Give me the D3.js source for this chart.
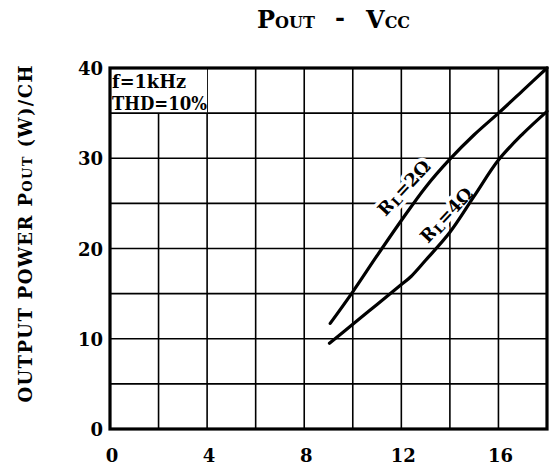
<!DOCTYPE html>
<html>
<head>
<meta charset="utf-8">
<script src="https://cdn.jsdelivr.net/npm/d3@7"></script>
<style>
  html, body { margin: 0; padding: 0; background: #fff; }
  svg { display: block; }
  text { font-family: "DejaVu Serif", serif; font-weight: bold; fill: #000; }
</style>
</head>
<body>
<svg id="chart" width="553" height="468"></svg>
<script>
// ---- data ----
const xTickValues = [0, 4, 8, 12, 16];
const yTickValues = [0, 10, 20, 30, 40];
const xGridValues = [0, 2, 4, 6, 8, 10, 12, 14, 16, 18];
const yGridValues = [0, 5, 10, 15, 20, 25, 30, 35, 40];

const vccRL2 = [9.07, 10, 11, 12, 13, 14, 15, 16, 17, 18];
const poutRL2 = [11.7, 15.2, 19.2, 23.1, 26.8, 29.9, 32.6, 35.0, 37.5, 40.0];

const vccRL4 = [9.04, 10, 11, 12, 12.4, 13, 14, 15, 16, 17, 18];
const poutRL4 = [9.5, 11.6, 13.8, 16.0, 16.9, 18.7, 21.8, 25.8, 29.8, 32.7, 35.2];

const seriesNames = ["2Ω", "4Ω"];
const condLines = ["f=1kHz", "THD=10%"];

// ---- layout ----
const svg = d3.select("#chart");
const x = d3.scaleLinear().domain([0, 18]).range([110, 547]);
const y = d3.scaleLinear().domain([0, 40]).range([429, 68]);

// grid
const g = svg.append("g");
g.selectAll("line.vg").data(xGridValues).join("line")
  .attr("x1", d => x(d)).attr("x2", d => x(d))
  .attr("y1", y(0)).attr("y2", y(40))
  .attr("stroke", "#000").attr("stroke-width", 1.6);
g.selectAll("line.hg").data(yGridValues).join("line")
  .attr("x1", x(0)).attr("x2", x(18))
  .attr("y1", d => y(d)).attr("y2", d => y(d))
  .attr("stroke", "#000").attr("stroke-width", 1.6);

// white box behind conditions
svg.append("rect")
  .attr("x", x(0)).attr("y", y(40))
  .attr("width", x(4) - x(0)).attr("height", y(35) - y(40))
  .attr("fill", "#fff");
g.append("line").attr("x1", x(4)).attr("x2", x(4)).attr("y1", y(40)).attr("y2", y(35))
  .attr("stroke", "#000").attr("stroke-width", 1.6);
svg.append("line").attr("x1", x(0)).attr("x2", x(4)).attr("y1", y(35)).attr("y2", y(35))
  .attr("stroke", "#000").attr("stroke-width", 1.6);

// curve labels (with white halo)
const labelPos = [[11.35, 23.5], [13.1, 20.5]];
seriesNames.forEach((nm, i) => {
  const t = svg.append("text")
    .attr("transform", `translate(${x(labelPos[i][0])},${y(labelPos[i][1])}) rotate(-47)`)
    .attr("font-size", 18)
    .attr("stroke", "#fff").attr("stroke-width", 7).attr("paint-order", "stroke")
    .attr("stroke-linejoin", "round");
  t.append("tspan").text("R");
  t.append("tspan").attr("font-size", 13).attr("dy", 2).text("L");
  t.append("tspan").attr("dy", -2).text("=" + nm);
});

// curves
const line = d3.line().x(d => x(d[0])).y(d => y(d[1])).curve(d3.curveCatmullRom.alpha(0.5));
[[vccRL2, poutRL2], [vccRL4, poutRL4]].forEach(([xs, ys]) => {
  svg.append("path")
    .attr("d", line(xs.map((v, i) => [v, ys[i]])))
    .attr("fill", "none").attr("stroke", "#000").attr("stroke-width", 3.2)
    .attr("stroke-linecap", "round");
});

// frame
svg.append("rect")
  .attr("x", x(0)).attr("y", y(40))
  .attr("width", x(18) - x(0)).attr("height", y(0) - y(40))
  .attr("fill", "none").attr("stroke", "#000").attr("stroke-width", 3.2);

// conditions text
condLines.forEach((s, i) => {
  svg.append("text").attr("x", x(0) + 2).attr("y", 88 + i * 22)
    .attr("font-size", 18).attr("textLength", i === 0 ? 74 : 95)
    .attr("lengthAdjust", "spacingAndGlyphs").text(s);
});

// y ticks
svg.selectAll("text.yt").data(yTickValues).join("text")
  .attr("x", 103).attr("y", d => y(d) + 7)
  .attr("text-anchor", "end").attr("font-size", 18)
  .text(d => d);

// x ticks
svg.selectAll("text.xt").data(xTickValues).join("text")
  .attr("x", d => x(d) + 2).attr("y", 462)
  .attr("text-anchor", "middle").attr("font-size", 18)
  .text(d => d);

// y axis title
const yt = svg.append("text")
  .attr("transform", "translate(32,234) rotate(-90)")
  .attr("text-anchor", "middle").attr("font-size", 18)
  .attr("textLength", 337).attr("lengthAdjust", "spacing");
yt.append("tspan").text("OUTPUT  POWER  P");
yt.append("tspan").attr("font-size", 13).text("OUT");
yt.append("tspan").text(" (W)/CH");

// chart title
const t1 = svg.append("text").attr("x", 257).attr("y", 28).attr("font-size", 24);
t1.append("tspan").text("P");
t1.append("tspan").attr("font-size", 16).text("OUT");
svg.append("text").attr("x", 340).attr("y", 26).attr("text-anchor", "middle").attr("font-size", 24).text("-");
const t2 = svg.append("text").attr("x", 366).attr("y", 28).attr("font-size", 24);
t2.append("tspan").text("V");
t2.append("tspan").attr("font-size", 16).text("CC");
</script>
</body>
</html>
